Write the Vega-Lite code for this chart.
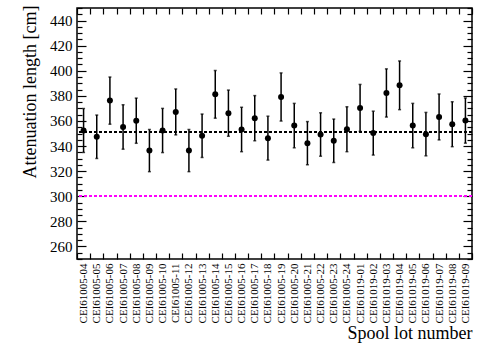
{
  "$schema": "https://vega.github.io/schema/vega-lite/v6.json",
  "width": 395,
  "height": 251,
  "autosize": {"type": "none"},
  "padding": {"left": 77, "top": 8, "right": 8, "bottom": 84},
  "background": "white",
  "config": {
    "font": "Liberation Serif",
    "view": {"stroke": "black", "strokeWidth": 1.5},
    "axis": {"grid": false, "domain": false, "tickColor": "black", "tickWidth": 1.2, "labelColor": "black", "titleColor": "black", "titleFontWeight": "normal", "labelFont": "Liberation Serif", "titleFont": "Liberation Serif"}
  },
  "data": {
    "values": [
      {"lot": "CEI61005-04", "v": 352.4, "err": 17.5},
      {"lot": "CEI61005-05", "v": 347.4, "err": 17.3},
      {"lot": "CEI61005-06", "v": 376.2, "err": 18.8},
      {"lot": "CEI61005-07", "v": 355.2, "err": 17.7},
      {"lot": "CEI61005-08", "v": 360.2, "err": 18.0},
      {"lot": "CEI61005-09", "v": 336.4, "err": 16.8},
      {"lot": "CEI61005-10", "v": 352.4, "err": 17.6},
      {"lot": "CEI61005-11", "v": 367.2, "err": 18.3},
      {"lot": "CEI61005-12", "v": 336.4, "err": 16.8},
      {"lot": "CEI61005-13", "v": 348.2, "err": 17.3},
      {"lot": "CEI61005-14", "v": 381.2, "err": 19.0},
      {"lot": "CEI61005-15", "v": 366.2, "err": 18.4},
      {"lot": "CEI61005-16", "v": 353.2, "err": 17.7},
      {"lot": "CEI61005-17", "v": 362.2, "err": 18.0},
      {"lot": "CEI61005-18", "v": 346.3, "err": 17.5},
      {"lot": "CEI61005-19", "v": 379.1, "err": 19.2},
      {"lot": "CEI61005-20", "v": 356.3, "err": 17.7},
      {"lot": "CEI61005-21", "v": 342.3, "err": 17.2},
      {"lot": "CEI61005-22", "v": 349.2, "err": 17.3},
      {"lot": "CEI61005-23", "v": 344.2, "err": 17.3},
      {"lot": "CEI61005-24", "v": 353.4, "err": 17.9},
      {"lot": "CEI61019-01", "v": 370.4, "err": 18.7},
      {"lot": "CEI61019-02", "v": 350.3, "err": 17.5},
      {"lot": "CEI61019-03", "v": 382.3, "err": 19.2},
      {"lot": "CEI61019-04", "v": 388.4, "err": 19.4},
      {"lot": "CEI61019-05", "v": 356.3, "err": 17.7},
      {"lot": "CEI61019-06", "v": 349.5, "err": 17.3},
      {"lot": "CEI61019-07", "v": 363.2, "err": 18.3},
      {"lot": "CEI61019-08", "v": 357.4, "err": 17.9},
      {"lot": "CEI61019-09", "v": 360.3, "err": 18.0}
    ]
  },
  "layer": [
    {
      "mark": {"type": "errorbar", "color": "black", "thickness": 1.5, "ticks": {"size": 3, "thickness": 1.5, "color": "black"}},
      "encoding": {
        "x": {"field": "lot", "type": "nominal", "sort": null,
          "scale": {"type": "band", "paddingInner": 0, "paddingOuter": 0},
          "axis": {"orient": "bottom", "tickBand": "extent", "tickSize": -6, "labelPadding": 10, "labelAngle": -90, "labelFontSize": 11,
            "title": "Spool lot number", "titleAnchor": "end", "titleFontSize": 18, "titlePadding": 1.5}},
        "y": {"field": "v", "type": "quantitative",
          "scale": {"domain": [250, 450], "nice": false, "zero": false},
          "axis": {"orient": "left", "values": [260, 280, 300, 320, 340, 360, 380, 400, 420, 440], "tickSize": -9, "labelPadding": 14, "labelFontSize": 15,
            "title": "Attenuation length [cm]", "titleAnchor": "end", "titleFontSize": 18, "titlePadding": 10, "titleY": -3}},
        "yError": {"field": "err"}
      }
    },
    {
      "mark": {"type": "point", "filled": true, "color": "black", "size": 36, "opacity": 1},
      "encoding": {
        "x": {"field": "lot", "type": "nominal", "sort": null,
          "scale": {"type": "band", "paddingInner": 0, "paddingOuter": 0},
          "axis": {"orient": "top", "tickBand": "extent", "tickSize": -6, "labels": false, "title": null}},
        "y": {"field": "v", "type": "quantitative",
          "scale": {"domain": [250, 450], "nice": false, "zero": false},
          "axis": {"orient": "right", "values": [260, 280, 300, 320, 340, 360, 380, 400, 420, 440], "tickSize": -9, "labels": false, "title": null}}
      }
    },
    {
      "mark": {"type": "rule", "color": "black", "strokeWidth": 1.3, "strokeDash": [3, 2]},
      "encoding": {
        "y": {"datum": 351.3, "type": "quantitative",
          "scale": {"domain": [250, 450], "nice": false, "zero": false},
          "axis": {"orient": "left", "values": [250, 255, 265, 270, 275, 285, 290, 295, 305, 310, 315, 325, 330, 335, 345, 350, 355, 365, 370, 375, 385, 390, 395, 405, 410, 415, 425, 430, 435, 445, 450], "tickSize": -5, "labels": false, "title": null}}
      }
    },
    {
      "mark": {"type": "rule", "color": "#ff00ff", "strokeWidth": 1.3, "strokeDash": [3, 2]},
      "encoding": {
        "y": {"datum": 300, "type": "quantitative",
          "scale": {"domain": [250, 450], "nice": false, "zero": false},
          "axis": {"orient": "right", "values": [250, 255, 265, 270, 275, 285, 290, 295, 305, 310, 315, 325, 330, 335, 345, 350, 355, 365, 370, 375, 385, 390, 395, 405, 410, 415, 425, 430, 435, 445, 450], "tickSize": -5, "labels": false, "title": null}}
      }
    }
  ],
  "resolve": {"axis": {"x": "independent", "y": "independent"}}
}
